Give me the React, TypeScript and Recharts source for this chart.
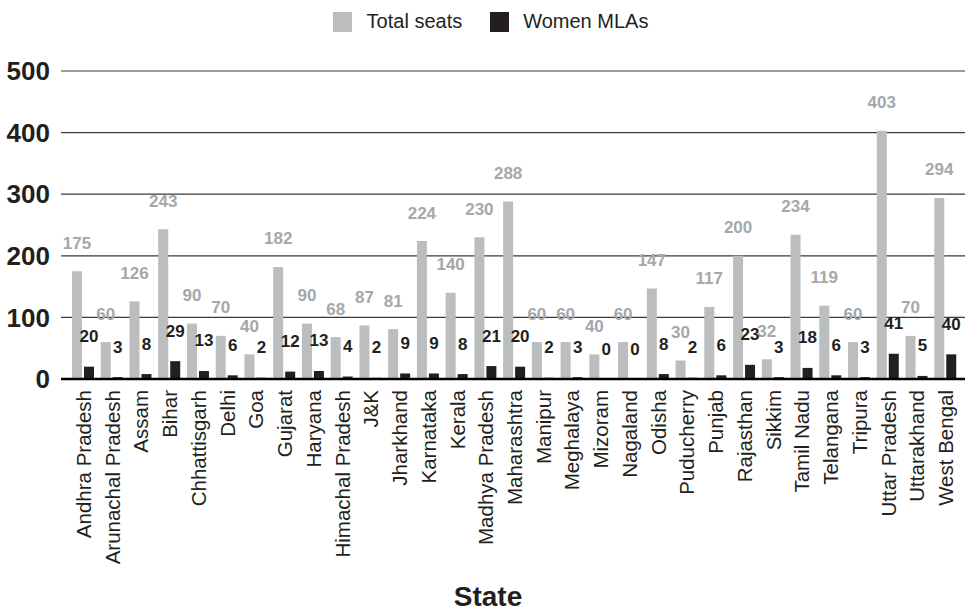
import React from 'react';
import { BarChart, Bar, XAxis, YAxis, CartesianGrid, Legend, LabelList } from 'recharts';

const states = [
  'Andhra Pradesh', 'Arunachal Pradesh', 'Assam', 'Bihar', 'Chhattisgarh', 'Delhi', 'Goa', 'Gujarat',
  'Haryana', 'Himachal Pradesh', 'J&K', 'Jharkhand', 'Karnataka', 'Kerala', 'Madhya Pradesh', 'Maharashtra',
  'Manipur', 'Meghalaya', 'Mizoram', 'Nagaland', 'Odisha', 'Puducherry', 'Punjab', 'Rajasthan',
  'Sikkim', 'Tamil Nadu', 'Telangana', 'Tripura', 'Uttar Pradesh', 'Uttarakhand', 'West Bengal',
];
const totalSeats = [175, 60, 126, 243, 90, 70, 40, 182, 90, 68, 87, 81, 224, 140, 230, 288, 60, 60, 40, 60, 147, 30, 117, 200, 32, 234, 119, 60, 403, 70, 294];
const womenMLAs = [20, 3, 8, 29, 13, 6, 2, 12, 13, 4, 2, 9, 9, 8, 21, 20, 2, 3, 0, 0, 8, 2, 6, 23, 3, 18, 6, 3, 41, 5, 40];
const yTicks = [0, 100, 200, 300, 400, 500];

const data = states.map((s, i) => ({ state: s, total: totalSeats[i], women: womenMLAs[i] }));

const GRAY = '#bbbdbf';
const GRAY_TEXT = '#a5a7aa';
const BLACK = '#231f20';
const FONT = '"Liberation Sans", Arial, sans-serif';
const BAR_SIZE = 10;
const BAR_GAP = 2;

const XTick = (props: any) => {
  const { x, y, payload } = props;
  return (
    <text
      x={x}
      y={y}
      transform={`rotate(-90 ${x} ${y})`}
      textAnchor="end"
      dominantBaseline="central"
      fontSize={20.5}
      fill={BLACK}
      fontFamily={FONT}
    >
      {payload.value}
    </text>
  );
};

const GrayLabel = (props: any) => {
  const { x, y, width, value } = props;
  return (
    <text
      x={Number(x) + Number(width) / 2}
      y={Number(y) - 28}
      textAnchor="middle"
      dominantBaseline="central"
      fontSize={17}
      fontWeight="bold"
      fill={GRAY_TEXT}
      fontFamily={FONT}
    >
      {value}
    </text>
  );
};

// Women label placed over the women bar, computed from the total bar's geometry
// (so that zero-height bars still get their label).
const WomenLabel = (props: any) => {
  const { x, y, width, height, index } = props;
  const total = totalSeats[index];
  const women = womenMLAs[index];
  const base = Number(y) + Number(height);
  const pxPerUnit = Number(height) / total;
  const top = base - women * pxPerUnit;
  const cx = Number(x) + Number(width) + BAR_GAP + BAR_SIZE / 2;
  return (
    <text
      x={cx}
      y={top - 30}
      textAnchor="middle"
      dominantBaseline="central"
      fontSize={17}
      fontWeight="bold"
      fill={BLACK}
      fontFamily={FONT}
    >
      {women}
    </text>
  );
};

const LegendContent = () => (
  <div style={{ height: 40, display: 'flex', justifyContent: 'center', alignItems: 'flex-start', fontFamily: FONT }}>
    <div style={{ display: 'flex', alignItems: 'center', marginTop: 10, marginLeft: 16 }}>
      <span style={{ display: 'inline-block', width: 19, height: 20, background: GRAY, marginRight: 15 }} />
      <span style={{ fontSize: 20, color: BLACK, marginRight: 28 }}>Total seats</span>
      <span style={{ display: 'inline-block', width: 19, height: 20, background: BLACK, marginRight: 14 }} />
      <span style={{ fontSize: 20, color: BLACK }}>Women MLAs</span>
    </div>
  </div>
);

export default function App() {
  return (
    <div style={{ position: 'absolute', left: 0, top: 0, width: 965, height: 609, background: '#fff', fontFamily: FONT }}>
      <BarChart
        width={965}
        height={609}
        data={data}
        margin={{ top: 31, right: 0, bottom: 0, left: 0 }}
        barSize={BAR_SIZE}
        barGap={BAR_GAP}
      >
        <Legend verticalAlign="top" content={<LegendContent />} wrapperStyle={{ top: 0, left: 0, width: 965 }} />
        <CartesianGrid vertical={false} stroke="#3a3a3a" strokeWidth={1.2} />
        <XAxis
          dataKey="state"
          interval={0}
          tick={<XTick />}
          tickLine={false}
          tickMargin={5}
          height={230}
          axisLine={{ stroke: '#000', strokeWidth: 2.5 }}
          padding={{ left: 8, right: 5 }}
          label={{ value: 'State', position: 'insideBottom', offset: 3, dx: -25, style: { fontSize: 28, fontWeight: 'bold', fill: BLACK, fontFamily: FONT } }}
        />
        <YAxis
          width={61}
          domain={[0, 500]}
          ticks={yTicks}
          axisLine={false}
          tickLine={false}
          tickMargin={5}
          tick={{ fontSize: 26, fontWeight: 'bold', fill: BLACK, fontFamily: FONT }}
        />
        <Bar dataKey="total" name="Total seats" fill={GRAY} isAnimationActive={false}>
          <LabelList dataKey="total" content={<GrayLabel />} />
          <LabelList dataKey="women" content={<WomenLabel />} />
        </Bar>
        <Bar dataKey="women" name="Women MLAs" fill={BLACK} isAnimationActive={false} />
      </BarChart>
    </div>
  );
}
